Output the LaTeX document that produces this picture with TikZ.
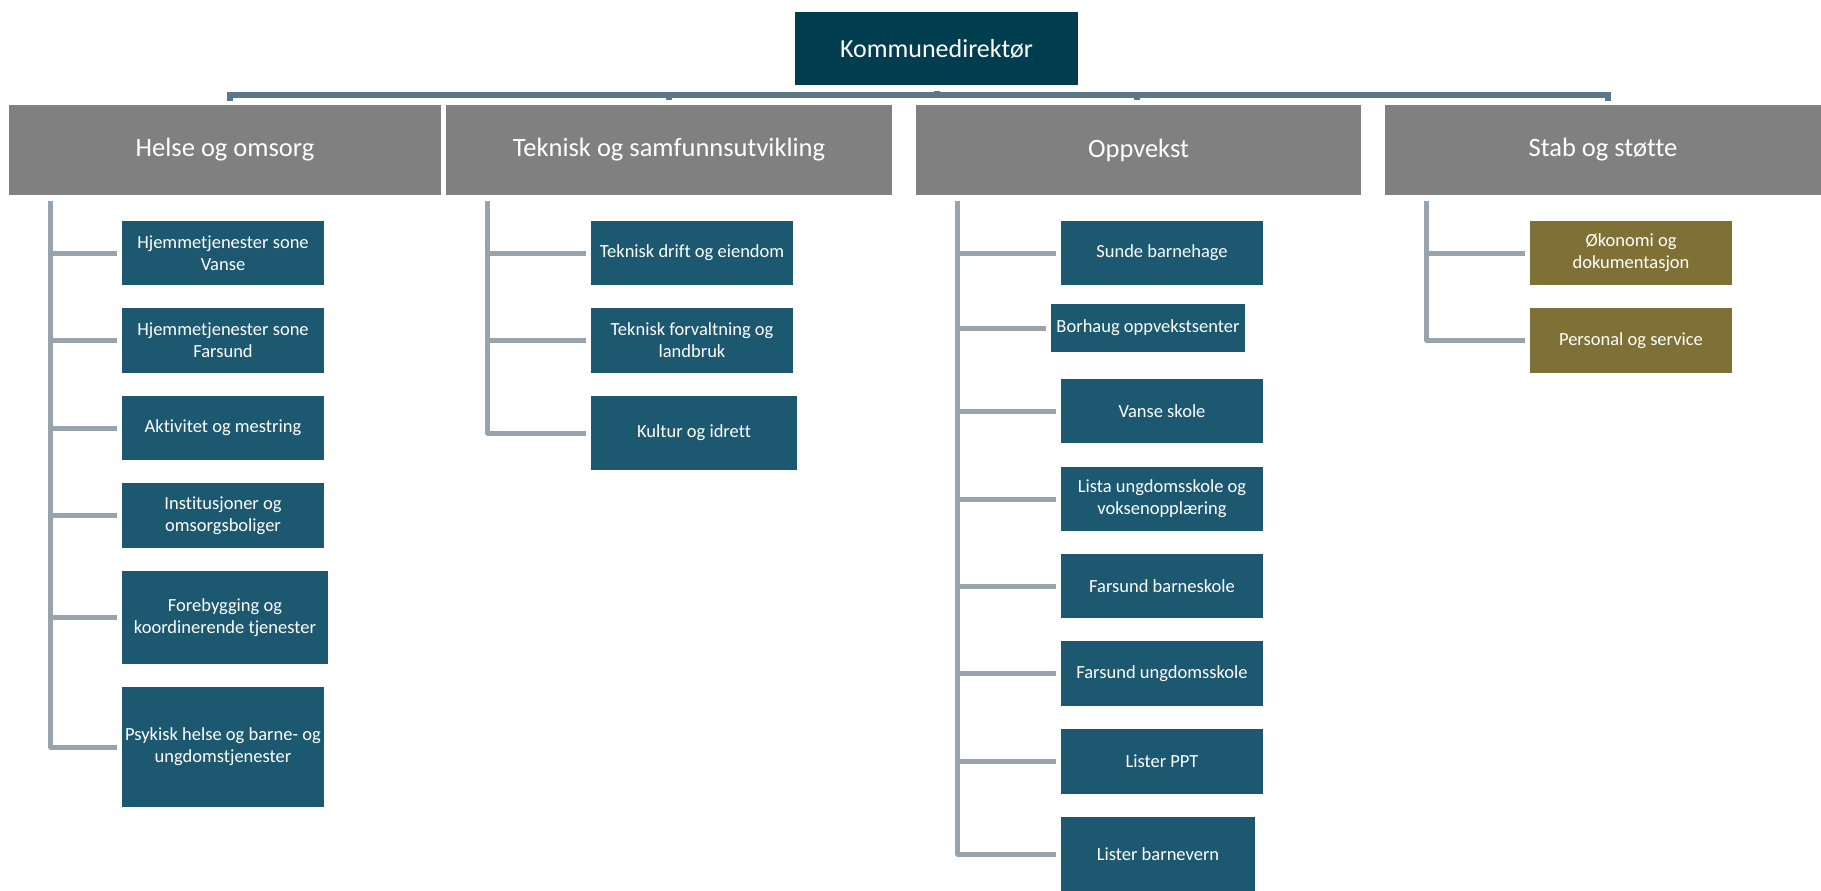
\documentclass[tikz,border=0pt]{standalone}
\usepackage{fontspec}
\setmainfont{Carlito}[Ligatures={NoCommon}]
\definecolor{kdcol}{HTML}{003D4F}
\definecolor{hdcol}{HTML}{808080}
\definecolor{chcol}{HTML}{1C5870}
\definecolor{olcol}{HTML}{7F7135}
\definecolor{trcol}{HTML}{97A4AE}
\definecolor{barcol}{HTML}{5A7888}
\tikzset{
  top/.style={fill=kdcol, text=white, inner sep=0pt, minimum width=283pt, minimum height=73pt, font=\fontsize{26}{31}\selectfont},
  hdr/.style={fill=hdcol, text=white, inner sep=0pt, minimum height=90pt, font=\fontsize{26.5}{32}\selectfont},
  unit/.style={fill=chcol, text=white, inner sep=0pt, minimum width=202pt, minimum height=64pt, align=center, font=\fontsize{18.5}{22}\selectfont},
  staff/.style={unit, fill=olcol},
  trunk/.style={draw=trcol, line width=5pt, line join=round},
  stub/.style={trunk, shorten >=5pt},
  bar/.style={draw=barcol, line width=6pt}
}
\begin{document}
\begin{tikzpicture}[x=1pt,y=-1pt]
\useasboundingbox (0,0) rectangle (1821,891);
% top
\node[top] (kd) at (936.5,48.5) {Kommunedirektør};
% headers
\node[hdr, minimum width=432pt] (hd1) at (225,150) {Helse og omsorg};
\node[hdr, minimum width=446pt] (hd2) at (669,150) {Teknisk og samfunnsutvikling};
\node[hdr, minimum width=445pt] (hd3) at (1138.5,150) {Oppvekst};
\node[hdr, minimum width=436pt] (hd4) at (1603,150) {Stab og støtte};
% bar
\coordinate (bj) at (936.5,94.5);
\draw[bar, shorten <=6pt] (kd.south) -- (bj);
\draw[bar, shorten >=4pt] (bj) -| ([xshift=5pt]hd1.north);
\draw[bar, shorten >=5pt] (bj) -| (hd2.north);
\draw[bar, shorten >=5pt] (bj) -| ([xshift=-1.5pt]hd3.north);
\draw[bar, shorten >=4pt] (bj) -| ([xshift=5pt]hd4.north);
% column 1
\node[unit] (h1) at (223,253) {Hjemmetjenester sone\\Vanse};
\node[unit, minimum height=65pt] (h2) at (223,340.5) {Hjemmetjenester sone\\Farsund};
\node[unit] (h3) at (223,428) {Aktivitet og mestring};
\node[unit, minimum height=65pt] (h4) at (223,515.5) {Institusjoner og\\omsorgsboliger};
\node[unit, minimum width=206pt, minimum height=93pt] (h5) at (225,617.5) {Forebygging og\\koordinerende tjenester};
\node[unit, minimum height=120pt] (h6) at (223,747) {Psykisk helse og barne- og\\ungdomstjenester};
\coordinate (a1) at ([shift={(42,6)}]hd1.south west);
\draw[stub] (a1) |- (h6.west);
\foreach \n in {h1,h2,h3,h4,h5} \draw[stub] (a1 |- \n.west) -- (\n.west);
% column 2
\node[unit] (t1) at (692,253) {Teknisk drift og eiendom};
\node[unit, minimum height=65pt] (t2) at (692,340.5) {Teknisk forvaltning og\\landbruk};
\node[unit, minimum width=206pt, minimum height=74pt] (t3) at (694,433) {Kultur og idrett};
\coordinate (a2) at ([shift={(42,6)}]hd2.south west);
\draw[stub] (a2) |- (t3.west);
\foreach \n in {t1,t2} \draw[stub] (a2 |- \n.west) -- (\n.west);
% column 3
\node[unit] (o1) at (1162,253) {Sunde barnehage};
\node[unit, minimum width=194pt, minimum height=48pt] (o2) at (1148,328) {Borhaug oppvekstsenter};
\node[unit] (o3) at (1162,411) {Vanse skole};
\node[unit] (o4) at (1162,499) {Lista ungdomsskole og\\voksenopplæring};
\node[unit] (o5) at (1162,586) {Farsund barneskole};
\node[unit, minimum height=65pt] (o6) at (1162,673.5) {Farsund ungdomsskole};
\node[unit, minimum height=65pt] (o7) at (1162,761.5) {Lister PPT};
\node[unit, minimum width=194pt, minimum height=74pt] (o8) at (1158,854) {Lister barnevern};
\coordinate (a3) at ([shift={(42,6)}]hd3.south west);
\draw[stub] (a3) |- (o8.west);
\foreach \n in {o1,o2,o3,o4,o5,o6,o7} \draw[stub] (a3 |- \n.west) -- (\n.west);
% column 4
\node[staff] (s1) at (1631,253) {Økonomi og\\dokumentasjon};
\node[staff, minimum height=65pt] (s2) at (1631,340.5) {Personal og service};
\coordinate (a4) at ([shift={(42,6)}]hd4.south west);
\draw[stub] (a4) |- (s2.west);
\draw[stub] (a4 |- s1.west) -- (s1.west);
\end{tikzpicture}
\end{document}
